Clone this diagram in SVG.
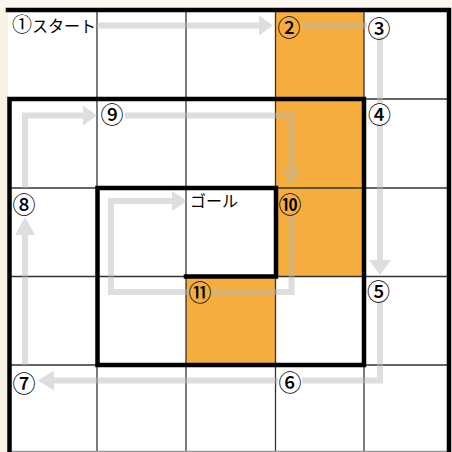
<svg xmlns="http://www.w3.org/2000/svg" width="452" height="452" viewBox="0 0 452 452">
<style>
.grid{stroke:#333;stroke-width:1.3;fill:none}
.wall{stroke:#000;stroke-width:4.5;fill:none;stroke-linejoin:miter;stroke-linecap:square}
.ar{stroke:#b8b8b8;stroke-width:6;fill:none;stroke-linejoin:miter}
.hd{fill:#b8b8b8;stroke:none}
.num{font-family:"Noto Sans CJK JP","Noto Sans",sans-serif;font-size:23px;font-weight:500;fill:#000;text-anchor:middle;dominant-baseline:central}
.lbl{font-family:"Noto Sans CJK JP","Noto Sans",sans-serif;font-size:16px;fill:#000}
.bg{fill:#fff}
</style>
<rect x="0" y="0" width="452" height="452" fill="#fff"/>
<rect x="0" y="0" width="8" height="452" fill="#f8f2e4"/>
<rect x="0" y="0" width="452" height="8" fill="#fbf7ef"/>
<g id="cells">
<rect x="275.5" y="10" width="88.5" height="266.5" fill="#f5ae3d"/>
<rect x="186" y="276.5" width="89.5" height="88.5" fill="#f5ae3d"/>
</g>
<g id="grid" class="grid">
<line x1="97" y1="10" x2="97" y2="452"/>
<line x1="186" y1="10" x2="186" y2="452"/>
<line x1="275.5" y1="10" x2="275.5" y2="452"/>
<line x1="364" y1="10" x2="364" y2="452"/>
<line x1="9" y1="99" x2="449" y2="99"/>
<line x1="9" y1="188" x2="449" y2="188"/>
<line x1="9" y1="276.5" x2="449" y2="276.5"/>
<line x1="9" y1="365" x2="449" y2="365"/>
<line x1="9" y1="451.5" x2="449" y2="451.5" stroke="#999"/>
</g>
<g id="connectors" opacity="0.45">
<path class="ar" d="M97,25.5 L259,25.5"/>
<polygon class="hd" points="259,15.5 273,25.5 259,35.5"/>
<path class="ar" d="M301,25.5 L367,25.5"/>
<path class="ar" d="M380,37 L380,261"/>
<polygon class="hd" points="369,260 391,260 380,275"/>
<path class="ar" d="M380,301 L380,380.5 L302,380.5"/>
<path class="ar" d="M278,380.5 L53,380.5"/>
<polygon class="hd" points="54,370.5 38,380.5 54,390.5"/>
<path class="ar" d="M25,365 L25,234"/>
<polygon class="hd" points="15,235 35,235 25,217"/>
<path class="ar" d="M25,188 L25,115.5 L84,115.5"/>
<polygon class="hd" points="83,105.5 97,115.5 83,125.5"/>
<path class="ar" d="M125,115.5 L291.5,115.5 L291.5,171"/>
<polygon class="hd" points="282,170 301,170 291.5,185"/>
<path class="ar" d="M291.5,215 L291.5,292 L212,292"/>
<path class="ar" d="M189,292 L111,292 L111,201 L173,201"/>
<polygon class="hd" points="172,191 187,201 172,211"/>
</g>
<g id="walls">
<path class="wall" d="M8,10 L449,10 L449,452"/>
<path class="wall" d="M9.5,452 L9.5,99 L364,99 L364,365 L97.5,365 L97.5,188 L276,188 L276,276.5 L186,276.5"/>
</g>
<g id="n1"><text class="lbl" x="12" y="32"><tspan font-size="20">①</tspan>スタート</text></g>
<g id="n2"><text class="num" x="289" y="26">②</text></g>
<g id="n3"><circle class="bg" cx="379" cy="26.5" r="10.5"/><text class="num" x="379" y="26.5">③</text></g>
<g id="n4"><circle class="bg" cx="379.5" cy="113" r="10.5"/><text class="num" x="379.5" y="113">④</text></g>
<g id="n5"><circle class="bg" cx="378.5" cy="289.5" r="10.5"/><text class="num" x="378.5" y="289.5">⑤</text></g>
<g id="n6"><circle class="bg" cx="290" cy="381" r="10.5"/><text class="num" x="290" y="381">⑥</text></g>
<g id="n7"><circle class="bg" cx="24" cy="382" r="10.5"/><text class="num" x="24" y="382">⑦</text></g>
<g id="n8"><circle class="bg" cx="24" cy="202.5" r="10.5"/><text class="num" x="24" y="202.5">⑧</text></g>
<g id="n9"><circle class="bg" cx="112" cy="113" r="10.5"/><text class="num" x="112" y="113">⑨</text></g>
<g id="n10"><text class="num" x="290" y="203">⑩</text></g>
<g id="n11"><text class="num" x="200" y="291">⑪</text></g>
<g id="goal"><text class="lbl" x="190" y="207">ゴール</text></g>
</svg>
